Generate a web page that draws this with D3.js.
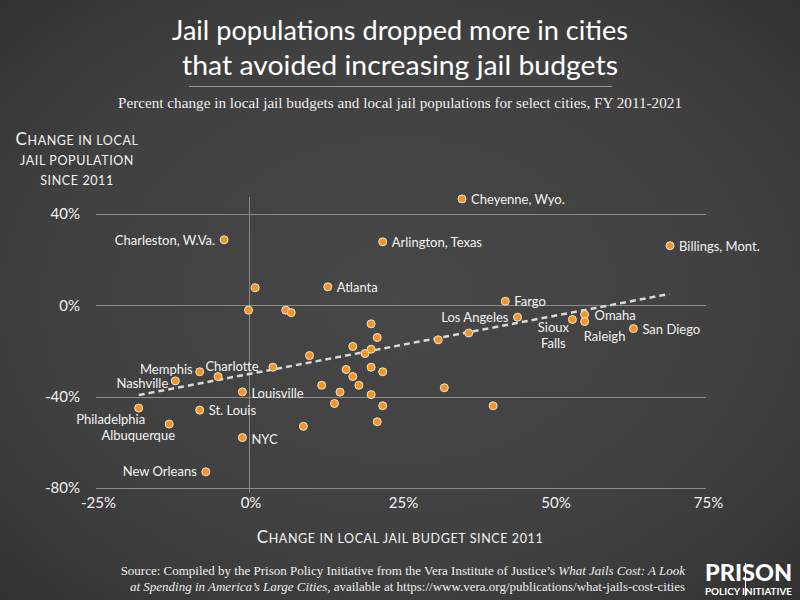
<!DOCTYPE html>
<html><head><meta charset="utf-8">
<script src="https://cdn.jsdelivr.net/npm/d3@7"></script>
<style>html,body{margin:0;padding:0;background:#3a3a3a;}svg{display:block;}</style>
</head><body>
<svg id="chart" width="800" height="600"></svg>
<script>
// ---- data ----
const cityNames = ["Cheyenne, Wyo.","Charleston, W.Va.","Arlington, Texas","Billings, Mont.","Atlanta","Fargo","Los Angeles","Sioux Falls","Omaha","Raleigh","San Diego","Memphis","Charlotte","Nashville","Louisville","Philadelphia","St. Louis","Albuquerque","NYC","New Orleans",
  "","","","","","","","","","","","","","","","","","","","","","","","","","",""];
const budgetChange = [35.0,-4.0,22.0,69.1,13.0,42.1,44.1,53.1,55.1,55.1,63.1,-8.0,-5.0,-12.0,-1.0,-18.0,-8.0,-13.0,-1.0,-7.0,
  1.1,0.0,6.1,7.0,31.1,36.1,4.0,9.0,10.0,20.1,21.1,17.1,20.1,19.1,16.0,20.1,22.0,17.1,12.0,18.1,32.1,15.0,20.1,14.1,22.0,40.1,21.1];
const populationChange = [46.6,28.7,27.8,26.1,8.1,1.8,-5.2,-6.2,-4.0,-7.1,-10.2,-29.1,-31.2,-33.1,-37.9,-45.0,-45.9,-52.0,-57.9,-72.9,
  7.7,-2.1,-2.1,-3.2,-15.1,-12.1,-27.1,-53.0,-22.0,-8.1,-14.1,-18.0,-19.2,-21.1,-28.1,-27.1,-29.1,-31.2,-35.0,-35.0,-36.1,-38.0,-39.1,-43.0,-44.0,-44.0,-51.0];
const trendBudget = [-18, 69];
const trendPopulation = [-39.3, 5.0];
const xTicks = [-25, 0, 25, 50, 75];
const yTicks = [40, 0, -40, -80];
const titleLines = ["Jail populations dropped more in cities", "that avoided increasing jail budgets"];
const subtitle = "Percent change in local jail budgets and local jail populations for select cities, FY 2011-2021";

// label layout (anchor, dx, dy) by city
const labelLayout = {
  "Cheyenne, Wyo.":["start",9,0], "Charleston, W.Va.":["end",-9,0], "Arlington, Texas":["start",9,0],
  "Billings, Mont.":["start",9,0], "Atlanta":["start",9,0], "Fargo":["start",9,0],
  "Los Angeles":["end",-9,0], "Sioux Falls":["middle",-19,8], "Omaha":["start",10,1],
  "Raleigh":["middle",20,14], "San Diego":["start",9,0], "Memphis":["end",-7,-3],
  "Charlotte":["middle",14,-11], "Nashville":["end",-7,2], "Louisville":["start",9,1],
  "Philadelphia":["middle",-28,11], "St. Louis":["start",9,0], "Albuquerque":["middle",-31,11],
  "NYC":["start",9,1], "New Orleans":["end",-9,-1]
};

const svg = d3.select("#chart");
const defs = svg.append("defs");
const grad = defs.append("radialGradient").attr("id","bg").attr("cx","50%").attr("cy","50%").attr("r","75%");
grad.append("stop").attr("offset","0%").attr("stop-color","#474747");
grad.append("stop").attr("offset","60%").attr("stop-color","#404040");
grad.append("stop").attr("offset","100%").attr("stop-color","#2f2f2f");
svg.append("rect").attr("width",800).attr("height",600).attr("fill","url(#bg)");

const sans = "Lato, 'Open Sans', sans-serif";
const serif = "'Liberation Serif', 'DejaVu Serif', serif";

// Title
titleLines.forEach((t,i)=>{
  svg.append("text").attr("x",400).attr("y",40+i*35).attr("text-anchor","middle")
    .attr("font-family",sans).attr("font-size",27).attr("fill","#ffffff")
    .attr("textLength", i===0?456:436).attr("lengthAdjust","spacingAndGlyphs").text(t);
});
svg.append("line").attr("x1",189).attr("x2",612).attr("y1",86.5).attr("y2",86.5).attr("stroke","#9a9a9a").attr("stroke-width",1);
svg.append("text").attr("x",400).attr("y",108).attr("text-anchor","middle")
  .attr("font-family",serif).attr("font-size",14.5).attr("fill","#eeeeee")
  .attr("textLength",564).attr("lengthAdjust","spacingAndGlyphs").text(subtitle);

// scales
const x = d3.scaleLinear().domain([-25,75]).range([96,706]);
const y = d3.scaleLinear().domain([40,-80]).range([214,488]);

// gridlines
const g = svg.append("g");
g.selectAll("line.h").data(yTicks).join("line")
  .attr("x1",x(-25)).attr("x2",x(75)).attr("y1",d=>Math.round(y(d))+0.5).attr("y2",d=>Math.round(y(d))+0.5)
  .attr("stroke","#8a8a8a").attr("stroke-width",1);
g.append("line").attr("x1",Math.round(x(0))+0.5).attr("x2",Math.round(x(0))+0.5)
  .attr("y1",y(47.5)).attr("y2",y(-82)).attr("stroke","#8a8a8a").attr("stroke-width",1);

// axes via d3
const yAxis = d3.axisLeft(y).tickValues(yTicks).tickFormat(d=>d+"%").tickSize(0).tickPadding(0);
const ya = svg.append("g").attr("transform","translate(80,0)").call(yAxis);
ya.select(".domain").remove();
ya.selectAll("text").attr("font-family",sans).attr("font-size",15).attr("fill","#f2f2f2");

const xAxis = d3.axisBottom(x).tickValues(xTicks).tickFormat(d=>d+"%").tickSize(0).tickPadding(0);
const xa = svg.append("g").attr("transform","translate(2,497)").call(xAxis);
xa.select(".domain").remove();
xa.selectAll("text").attr("font-family",sans).attr("font-size",15).attr("fill","#f2f2f2");

// axis titles (small caps)
function smallCaps(sel, first, rest){
  sel.append("tspan").attr("font-size",17).text(first);
  sel.append("tspan").attr("font-size",12.5).text(rest);
}
const yt = [["C","HANGE IN LOCAL"],["","JAIL POPULATION"],["","SINCE 2011"]];
yt.forEach((p,i)=>{
  const t = svg.append("text").attr("x",77).attr("y",[145,165,185][i]).attr("text-anchor","middle")
    .attr("font-family",sans).attr("fill","#f2f2f2").attr("letter-spacing",0.6);
  smallCaps(t,p[0],p[1]);
});
const xt = svg.append("text").attr("x",400).attr("y",543).attr("text-anchor","middle")
  .attr("font-family",sans).attr("fill","#f2f2f2").attr("letter-spacing",0.6);
smallCaps(xt,"C","HANGE IN LOCAL JAIL BUDGET SINCE 2011");

// trend line
const line = d3.line().x(d=>x(d[0])).y(d=>y(d[1]));
svg.append("path").datum(d3.zip(trendBudget,trendPopulation)).attr("d",line)
  .attr("fill","none").attr("stroke","#d8d8d8").attr("stroke-width",2.5).attr("stroke-dasharray","6,4");

// points
const pts = d3.range(cityNames.length).map(i=>({name:cityNames[i],bx:budgetChange[i],py:populationChange[i]}));
svg.append("g").selectAll("circle").data(pts).join("circle")
  .attr("cx",d=>x(d.bx)).attr("cy",d=>y(d.py)).attr("r",4)
  .attr("fill","#f7941d").attr("stroke","#e8e8e8").attr("stroke-width",1);

// labels
const lg = svg.append("g").attr("font-family",sans).attr("font-size",13).attr("fill","#f2f2f2");
pts.filter(d=>d.name).forEach(d=>{
  const [anc,dx,dy] = labelLayout[d.name];
  if(d.name==="Sioux Falls"){
    ["Sioux","Falls"].forEach((w,k)=>{
      lg.append("text").attr("text-anchor",anc).attr("dominant-baseline","central")
        .attr("x",x(d.bx)+dx).attr("y",y(d.py)+dy+k*16).text(w);
    });
  } else {
    lg.append("text").attr("text-anchor",anc).attr("dominant-baseline","central")
      .attr("x",x(d.bx)+dx).attr("y",y(d.py)+dy).text(d.name);
  }
});

// source
const src = svg.append("text").attr("font-family",serif).attr("font-size",13).attr("fill","#eeeeee").attr("text-anchor","end");
const l1 = src.append("tspan").attr("x",685).attr("y",575);
l1.append("tspan").text("Source: Compiled by the Prison Policy Initiative from the Vera Institute of Justice\u2019s ");
l1.append("tspan").attr("font-style","italic").text("What Jails Cost: A Look");
const src2 = svg.append("text").attr("font-family",serif).attr("font-size",13).attr("fill","#eeeeee").attr("text-anchor","end");
const l2 = src2.append("tspan").attr("x",685).attr("y",591);
l2.append("tspan").attr("font-style","italic").text("at Spending in America\u2019s Large Cities");
l2.append("tspan").text(", available at https://www.vera.org/publications/what-jails-cost-cities");

// logo
svg.append("text").attr("x",705).attr("y",581).attr("font-family",sans).attr("font-weight",900)
  .attr("font-size",23).attr("fill","#ffffff").attr("textLength",87).attr("lengthAdjust","spacingAndGlyphs").text("PRISON");
svg.append("text").attr("x",705).attr("y",595).attr("font-family",sans).attr("font-weight",700)
  .attr("font-size",9).attr("fill","#ffffff").attr("textLength",87).attr("lengthAdjust","spacingAndGlyphs").text("POLICY INITIATIVE");
svg.append("line").attr("x1",745.5).attr("x2",745.5).attr("y1",563).attr("y2",596).attr("stroke","#ffffff").attr("stroke-width",1);
</script>
</body></html>
